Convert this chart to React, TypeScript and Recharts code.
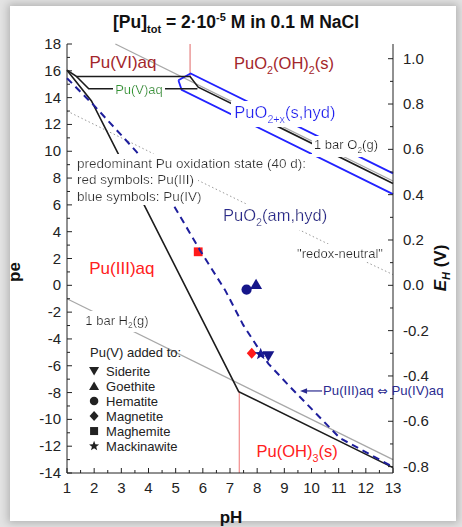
import React from 'react';
import { ComposedChart, Line, Scatter, XAxis, YAxis, ReferenceDot } from 'recharts';

const FONT = '"Liberation Sans", Arial, Helvetica, sans-serif';
const INK = '#222';
const V_PER_PE = 0.05916;

// axis ticks
const phTicks = [1, 1.5, 2, 2.5, 3, 3.5, 4, 4.5, 5, 5.5, 6, 6.5, 7, 7.5, 8, 8.5, 9, 9.5, 10, 10.5, 11, 11.5, 12, 12.5, 13];
const peTicks = [-14, -13, -12, -11, -10, -9, -8, -7, -6, -5, -4, -3, -2, -1, 0, 1, 2, 3, 4, 5, 6, 7, 8, 9, 10, 11, 12, 13, 14, 15, 16, 17, 18];
const ehTicks = [-0.8, -0.7, -0.6, -0.5, -0.4, -0.3, -0.2, -0.1, 0, 0.1, 0.2, 0.3, 0.4, 0.5, 0.6, 0.7, 0.8, 0.9, 1.0];

type Pt = { ph: number; pe: number };

// water stability + redox-neutral guide lines
const o2Line: Pt[] = [{ ph: 2.78, pe: 18 }, { ph: 13, pe: 7.78 }];
const h2Line: Pt[] = [{ ph: 1, pe: -1 }, { ph: 13, pe: -13 }];
const redoxNeutral: Pt[] = [
  { ph: 1, pe: 13.0 }, { ph: 4.05, pe: 9.95 }, { ph: 5.65, pe: 8.0 }, { ph: 10.8, pe: 2.9 }, { ph: 13, pe: 0.8 },
];

// Pu species boundaries
const pu6Upper: Pt[] = [
  { ph: 1, pe: 16.05 }, { ph: 1.35, pe: 15.58 }, { ph: 5.53, pe: 15.58 }, { ph: 5.83, pe: 14.78 }, { ph: 13, pe: 7.6 },
];
const pu5Lower: Pt[] = [{ ph: 1.35, pe: 15.58 }, { ph: 1.8, pe: 14.66 }, { ph: 5.8, pe: 14.66 }];
const pu34Solid: Pt[] = [{ ph: 1, pe: 16.05 }, { ph: 1.9, pe: 13.75 }, { ph: 7.32, pe: -7.93 }, { ph: 13, pe: -13.6 }];
const pu34Aq: Pt[] = [
  { ph: 1, pe: 15.45 }, { ph: 2, pe: 13.4 }, { ph: 3, pe: 11.2 }, { ph: 3.56, pe: 9.96 }, { ph: 4.85, pe: 6.23 },
  { ph: 5.9, pe: 2.6 }, { ph: 6.82, pe: -0.36 }, { ph: 7.49, pe: -2.97 }, { ph: 8.41, pe: -5.84 },
  { ph: 9.21, pe: -7.57 }, { ph: 11.05, pe: -11.4 }, { ph: 13, pe: -13.55 },
];
const puO2xUpper: Pt[] = [{ ph: 5.1, pe: 15.3 }, { ph: 5.55, pe: 15.8 }, { ph: 13, pe: 8.35 }];
const puO2xLower: Pt[] = [{ ph: 5.1, pe: 15.3 }, { ph: 5.22, pe: 14.58 }, { ph: 13, pe: 6.8 }];
const viBoundary: Pt[] = [{ ph: 5.53, pe: 18 }, { ph: 5.53, pe: 15.58 }];
const iiiBoundary: Pt[] = [{ ph: 7.34, pe: -7.9 }, { ph: 7.34, pe: -14 }];

// E_H range of the right axis (same span as pe -14..18)
const ehRange = [{ ph: 1, eh: -14 * V_PER_PE }, { ph: 13, eh: 18 * V_PER_PE }];

// measured samples (40 d)
const pu3Points = [
  { ph: 5.83, pe: 2.5, mineral: 'Maghemite' },
  { ph: 7.8, pe: -5.06, mineral: 'Magnetite' },
];
const pu4Points = [
  { ph: 7.96, pe: 0.09, mineral: 'Goethite' },
  { ph: 7.61, pe: -0.32, mineral: 'Hematite' },
  { ph: 8.41, pe: -5.28, mineral: 'Siderite' },
  { ph: 8.13, pe: -5.13, mineral: 'Mackinawite' },
];
const legendMinerals = ['Siderite', 'Goethite', 'Hematite', 'Magnetite', 'Maghemite', 'Mackinawite'];

const regionLabels = [
  { id: 'vi', ph: 3.06, pe: 16.66, text: 'Pu(VI)aq' },
  { id: 'viS', ph: 8.99, pe: 16.58, text: 'PuO_2(OH)_2(s)' },
  { id: 'v', ph: 3.65, pe: 14.64, text: 'Pu(V)aq' },
  { id: 'ox', ph: 9.02, pe: 12.93, text: 'PuO_{2+x}(s,hyd)' },
  { id: 'o2', ph: 11.27, pe: 10.47, text: '1 bar O_2(g)' },
  { id: 'iv', ph: 8.66, pe: 5.24, text: 'PuO_2(am,hyd)' },
  { id: 'neutral', ph: 11.05, pe: 2.41, text: '"redox-neutral"' },
  { id: 'iii', ph: 3.02, pe: 1.29, text: 'Pu(III)aq' },
  { id: 'h2', ph: 2.84, pe: -2.59, text: '1 bar H_2(g)' },
  { id: 'iiiS', ph: 9.47, pe: -12.36, text: 'Pu(OH)_3(s)' },
];
const noteLines = ['predominant Pu oxidation state (40 d):', 'red symbols: Pu(III)', 'blue symbols: Pu(IV)'];
const noteAnchor = { ph: 1.37, pe: 9.15 };
const legendAnchor = { ph: 1.85, pe: -5.03 };
const arrowTip = { ph: 9.58, pe: -7.88 };

const labelStyle: Record<string, { color: string; size: number; bg?: boolean }> = {
  vi: { color: '#a3262b', size: 17 },
  viS: { color: '#a3262b', size: 16.5 },
  v: { color: '#2f9a2f', size: 13, bg: true },
  ox: { color: '#2323f0', size: 16.5, bg: true },
  o2: { color: INK, size: 13, bg: true },
  iv: { color: '#2b2b90', size: 16.5, bg: true },
  neutral: { color: INK, size: 13, bg: true },
  iii: { color: '#ff2020', size: 17 },
  h2: { color: INK, size: 13, bg: true },
  iiiS: { color: '#ff2020', size: 16.5 },
};

const RED = '#ff1a1a';
const NAVY = '#16168a';

function RichText({ src, size }: { src: string; size: number }) {
  const parts = src.split(/(_\{[^}]*\}|_.)/).filter(Boolean);
  const sub = size * 0.65;
  const shift = size * 0.3;
  let lowered = false;
  return (
    <>
      {parts.map((p, i) => {
        if (p.startsWith('_')) {
          const t = p.startsWith('_{') ? p.slice(2, -1) : p.slice(1);
          const dy = lowered ? 0 : shift;
          lowered = true;
          return <tspan key={i} dy={dy} fontSize={sub}>{t}</tspan>;
        }
        const dy = lowered ? -shift : 0;
        lowered = false;
        return <tspan key={i} dy={dy}>{p}</tspan>;
      })}
    </>
  );
}

function Marker({ kind, cx, cy, size, color }: { kind: string; cx: number; cy: number; size: number; color: string }) {
  const h = size / 2;
  switch (kind) {
    case 'Siderite':
      return <polygon points={`${cx - h},${cy - h * 0.8} ${cx + h},${cy - h * 0.8} ${cx},${cy + h * 0.9}`} fill={color} />;
    case 'Goethite':
      return <polygon points={`${cx - h},${cy + h * 0.8} ${cx + h},${cy + h * 0.8} ${cx},${cy - h * 0.9}`} fill={color} />;
    case 'Hematite':
      return <circle cx={cx} cy={cy} r={h * 0.85} fill={color} />;
    case 'Magnetite':
      return <polygon points={`${cx},${cy - h} ${cx + h * 0.9},${cy} ${cx},${cy + h} ${cx - h * 0.9},${cy}`} fill={color} />;
    case 'Maghemite':
      return <rect x={cx - h * 0.8} y={cy - h * 0.8} width={h * 1.6} height={h * 1.6} fill={color} />;
    default: {
      const pts: string[] = [];
      for (let k = 0; k < 10; k++) {
        const r = k % 2 === 0 ? h * 1.05 : h * 0.45;
        const a = -Math.PI / 2 + (k * Math.PI) / 5;
        pts.push(`${cx + r * Math.cos(a)},${cy + r * Math.sin(a)}`);
      }
      return <polygon points={pts.join(' ')} fill={color} />;
    }
  }
}

const tickText = { fontFamily: FONT, fontSize: 15, fill: INK };

function BottomTick({ x, y, payload }: any) {
  const major = Number.isInteger(payload.value);
  return (
    <g>
      <line x1={x} x2={x} y1={y} y2={y - (major ? 5 : 3)} stroke={INK} />
      {major && <text x={x} y={y + 20} textAnchor="middle" {...tickText}>{payload.value}</text>}
    </g>
  );
}

function TopTick({ x, y, payload }: any) {
  const major = Number.isInteger(payload.value);
  return <line x1={x} x2={x} y1={y} y2={y + (major ? 5 : 3)} stroke={INK} />;
}

function LeftTick({ x, y, payload }: any) {
  const major = payload.value % 2 === 0;
  return (
    <g>
      <line x1={x} x2={x + (major ? 5 : 3)} y1={y} y2={y} stroke={INK} />
      {major && <text x={x - 6} y={y + 5} textAnchor="end" {...tickText}>{payload.value}</text>}
    </g>
  );
}

function RightTick({ x, y, payload }: any) {
  const major = Math.round(payload.value * 10) % 2 === 0;
  return (
    <g>
      <line x1={x} x2={x - (major ? 5 : 3)} y1={y} y2={y} stroke={INK} />
      {major && <text x={x + 10} y={y + 5} textAnchor="start" {...tickText}>{Number(payload.value).toFixed(1)}</text>}
    </g>
  );
}

const axisIds = { xAxisId: 'ph', yAxisId: 'pe' };

function curve(data: Pt[], stroke: string, width: number, dash?: string, z = 400) {
  return (
    <Line
      {...axisIds}
      data={data}
      dataKey="pe"
      type="linear"
      stroke={stroke}
      strokeWidth={width}
      strokeDasharray={dash}
      dot={false}
      activeDot={false}
      isAnimationActive={false}
      zIndex={z}
    />
  );
}

export default function App() {
  return (
    <div style={{ position: 'absolute', left: 0, top: 0, width: 462, height: 527, background: '#e3e3e3', overflow: 'hidden', fontFamily: FONT }}>
      <div style={{ position: 'absolute', left: 10, top: 6, width: 446, height: 515, background: '#fff', boxShadow: '0 0 8px 2px rgba(0,0,0,0.22)' }} />
      <svg width={0} height={0} style={{ position: 'absolute' }}>
        <defs>
          <filter id="labelBg" x="-0.03" y="-0.06" width="1.06" height="1.12">
            <feFlood floodColor="#fff" result="bg" />
            <feMerge>
              <feMergeNode in="bg" />
              <feMergeNode in="SourceGraphic" />
            </feMerge>
          </filter>
        </defs>
      </svg>

      <div style={{ position: 'absolute', left: 0, top: 0 }}>
        <ComposedChart width={462} height={527} margin={{ top: 44, right: 0, bottom: 0, left: 0 }}>
          <XAxis xAxisId="ph" dataKey="ph" type="number" domain={[1, 13]} ticks={phTicks} interval={0} height={54}
            tickLine={false} tickSize={0} tickMargin={0} axisLine={{ stroke: INK }} tick={(p: any) => <BottomTick {...p} />} />
          <XAxis xAxisId="top" dataKey="ph" orientation="top" type="number" domain={[1, 13]} ticks={phTicks} interval={0} height={0}
            tickLine={false} tickSize={0} tickMargin={0} axisLine={{ stroke: INK }} tick={(p: any) => <TopTick {...p} />} />
          <YAxis yAxisId="pe" dataKey="pe" type="number" domain={[-14, 18]} ticks={peTicks} interval={0} width={67}
            tickLine={false} tickSize={0} tickMargin={0} axisLine={{ stroke: INK }} tick={(p: any) => <LeftTick {...p} />} />
          <YAxis yAxisId="eh" dataKey="eh" orientation="right" type="number" domain={[-14 * V_PER_PE, 18 * V_PER_PE]} ticks={ehTicks}
            interval={0} width={69} tickLine={false} tickSize={0} tickMargin={0} axisLine={{ stroke: INK }}
            tick={(p: any) => <RightTick {...p} />} />

          <Line xAxisId="top" yAxisId="eh" data={ehRange} dataKey="eh" stroke="none" dot={false} activeDot={false}
            isAnimationActive={false} />

          {curve(redoxNeutral, '#9a9a9a', 1, '1.5 2.5')}
          {curve(o2Line, '#a8a8a8', 1.3)}
          {curve(h2Line, '#a8a8a8', 1.3)}
          {curve(viBoundary, '#dd5555', 0.9)}
          {curve(iiiBoundary, '#ee6666', 0.9)}
          {curve(puO2xUpper, '#2222ff', 1.8)}
          {curve(puO2xLower, '#2222ff', 1.8)}
          {curve(pu6Upper, '#1c1c1c', 1.6)}
          {curve(pu5Lower, '#1c1c1c', 1.6)}
          {curve(pu34Solid, '#1c1c1c', 1.6)}

          <Scatter {...axisIds} data={pu3Points} dataKey="pe" isAnimationActive={false} zIndex={600}
            shape={(p: any) => <Marker kind={p.payload.mineral} cx={p.cx} cy={p.cy} size={11} color={RED} />} />
          <Scatter {...axisIds} data={pu4Points} dataKey="pe" isAnimationActive={false} zIndex={600}
            shape={(p: any) => <Marker kind={p.payload.mineral} cx={p.cx} cy={p.cy} size={12} color={NAVY} />} />

          {curve(pu34Aq, '#1e1e9c', 2, '7 5', 650)}

          {regionLabels.map((l) => {
            const s = labelStyle[l.id];
            return (
              <ReferenceDot key={l.id} {...axisIds} x={l.ph} y={l.pe} r={0} zIndex={s.bg ? 700 : 710}
                shape={(p: any) => (
                  <text x={p.cx} y={p.cy + s.size * 0.35} textAnchor="middle" fontSize={s.size} fill={s.color}
                    fontFamily={FONT} filter={s.bg ? 'url(#labelBg)' : undefined}>
                    <RichText src={l.text} size={s.size} />
                  </text>
                )} />
            );
          })}

          <ReferenceDot {...axisIds} x={noteAnchor.ph} y={noteAnchor.pe} r={0} zIndex={700}
            shape={(p: any) => (
              <g fontFamily={FONT} fontSize={13.5} fill="#333">
                {noteLines.map((t, i) => (
                  <text key={t} x={p.cx} y={p.cy + 5 + i * 16.5} filter="url(#labelBg)">{t}</text>
                ))}
              </g>
            )} />

          <ReferenceDot {...axisIds} x={legendAnchor.ph} y={legendAnchor.pe} r={0} zIndex={710}
            shape={(p: any) => (
              <g fontFamily={FONT} fontSize={13} fill={INK}>
                <text x={p.cx} y={p.cy + 4.5}>Pu(V) added to:</text>
                {legendMinerals.map((m, i) => (
                  <g key={m}>
                    <Marker kind={m} cx={p.cx + 4} cy={p.cy + 18.3 + i * 15} size={10} color={INK} />
                    <text x={p.cx + 16} y={p.cy + 18.3 + i * 15 + 4.5}>{m}</text>
                  </g>
                ))}
              </g>
            )} />

          <ReferenceDot {...axisIds} x={arrowTip.ph} y={arrowTip.pe} r={0} zIndex={710}
            shape={(p: any) => (
              <g>
                <line x1={p.cx + 4} x2={p.cx + 22} y1={p.cy} y2={p.cy} stroke="#2b2b90" strokeWidth={1.2} />
                <polygon points={`${p.cx},${p.cy} ${p.cx + 7},${p.cy - 2.8} ${p.cx + 7},${p.cy + 2.8}`} fill="#2b2b90" />
                <text x={p.cx + 23} y={p.cy + 4.5} fontFamily={FONT} fontSize={13.2} fill="#2b2b90">
                  {'Pu(III)aq '}
                  <tspan fontFamily='"DejaVu Sans", sans-serif' fontSize={12.5}>{'\u21D4'}</tspan>
                  {' Pu(IV)aq'}
                </text>
              </g>
            )} />
        </ComposedChart>
      </div>

      <div style={{ position: 'absolute', left: 113, top: 12, whiteSpace: 'nowrap', fontWeight: 'bold', fontSize: 17.5, lineHeight: '20px', color: '#111' }}>
        [Pu]<span style={{ fontSize: 11, position: 'relative', top: 5 }}>tot</span> = 2·10
        <span style={{ fontSize: 11, position: 'relative', top: -7 }}>-5</span> M in 0.1 M NaCl
      </div>
      <div style={{ position: 'absolute', left: 0, width: 462, top: 508, textAlign: 'center', fontWeight: 'bold', fontSize: 17, lineHeight: '20px', color: '#111' }}>
        pH
      </div>
      <div style={{ position: 'absolute', left: 15, top: 272, transform: 'translate(-50%, -50%) rotate(-90deg)', fontWeight: 'bold', fontSize: 17, lineHeight: '20px', color: '#111', whiteSpace: 'nowrap' }}>
        pe
      </div>
      <div style={{ position: 'absolute', left: 441, top: 268, transform: 'translate(-50%, -50%) rotate(-90deg)', fontWeight: 'bold', fontSize: 17, lineHeight: '20px', color: '#111', whiteSpace: 'nowrap' }}>
        <i>E</i><span style={{ fontSize: 11, position: 'relative', top: 4, fontStyle: 'italic' }}>H</span> (V)
      </div>
    </div>
  );
}
